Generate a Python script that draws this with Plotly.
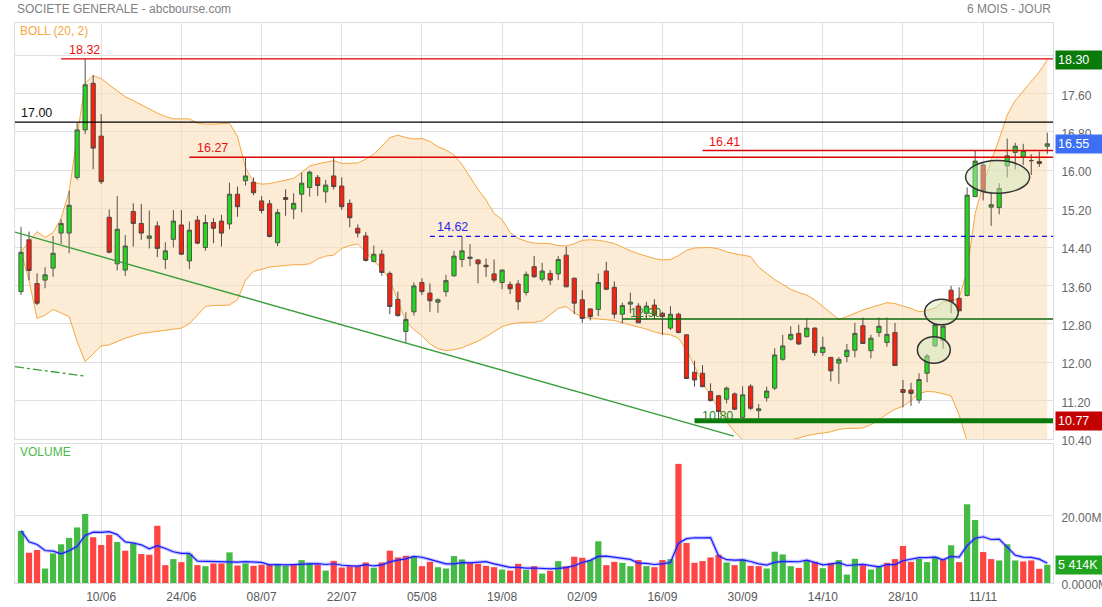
import plotly.graph_objects as go
import pandas as pd

# ---------------- data ----------------
dates = [d.strftime('%Y-%m-%d') for d in pd.bdate_range('2024-05-27', periods=129)]
tick_dates = ['2024-06-10', '2024-06-24', '2024-07-08', '2024-07-22', '2024-08-05', '2024-08-19',
              '2024-09-02', '2024-09-16', '2024-09-30', '2024-10-14', '2024-10-28', '2024-11-11']
tick_labels = ['10/06', '24/06', '08/07', '22/07', '05/08', '19/08',
               '02/09', '16/09', '30/09', '14/10', '28/10', '11/11']

opens = [13.47, 14.55, 13.64, 13.71, 13.96, 14.69, 14.69, 15.85, 16.84, 17.81, 16.71, 15.02, 14.05, 13.92, 15.14, 14.89,
         14.58, 14.84, 14.14, 14.56, 14.86, 14.11, 14.96, 14.39, 14.91, 14.94, 14.88, 15.50, 15.78, 15.75, 15.36, 15.30,
         14.49, 15.43, 15.19, 15.50, 15.64, 15.85, 15.55, 15.88, 15.67, 15.31, 14.79, 14.63, 14.10, 14.25, 13.85, 13.31,
         12.64, 13.05, 13.66, 13.44, 13.25, 13.47, 13.80, 14.14, 14.16, 14.13, 14.02, 13.84, 13.66, 13.62, 13.63, 13.45,
         13.99, 13.73, 13.85, 13.84, 14.23, 13.75, 13.30, 13.11, 13.10, 13.90, 13.56, 13.00, 13.21, 13.17, 13.02, 13.19,
         13.02, 12.71, 13.00, 12.57, 11.79, 11.77, 11.39, 11.30, 11.23, 11.34, 10.85, 11.50, 10.99, 11.26, 11.46, 12.06,
         12.48, 12.60, 12.53, 12.71, 12.20, 12.10, 11.98, 12.12, 12.25, 12.76, 12.24, 12.62, 12.41, 12.62, 11.43, 11.42,
         11.21, 11.77, 12.34, 12.46, 13.50, 13.33, 13.39, 15.45, 16.11, 15.23, 15.22, 16.09, 16.37, 16.28, 16.20, 16.18,
         16.50]
highs = [14.82, 14.72, 13.85, 13.98, 14.63, 14.98, 15.57, 16.99, 18.32, 17.98, 17.17, 15.18, 15.46, 14.65, 15.31, 15.30,
         15.16, 14.93, 14.50, 15.17, 15.17, 14.93, 15.05, 15.07, 15.00, 15.07, 15.74, 15.66, 16.27, 15.85, 15.46, 15.38,
         15.19, 15.60, 15.52, 15.95, 15.99, 15.90, 15.80, 16.27, 15.85, 15.39, 14.87, 14.71, 14.43, 14.34, 13.89, 13.47,
         13.04, 13.66, 13.75, 13.64, 13.33, 13.82, 14.32, 14.62, 14.46, 14.15, 14.16, 14.14, 13.93, 13.68, 13.71, 13.89,
         14.21, 14.07, 13.92, 14.21, 14.41, 13.76, 13.50, 13.12, 13.85, 14.09, 13.68, 13.24, 13.45, 13.23, 13.26, 13.31,
         13.05, 13.17, 13.03, 12.58, 12.03, 11.94, 11.56, 11.32, 11.49, 11.37, 11.50, 11.54, 11.13, 11.49, 12.29, 12.57,
         12.75, 12.78, 12.91, 12.73, 12.53, 12.11, 12.11, 12.38, 12.82, 12.93, 12.57, 12.93, 12.93, 12.82, 11.63, 11.57,
         11.77, 12.17, 12.80, 12.77, 13.59, 13.56, 15.64, 16.41, 16.16, 15.55, 15.73, 16.66, 16.57, 16.55, 16.33, 16.39,
         16.78]
lows = [13.40, 13.71, 13.19, 13.54, 13.78, 14.46, 14.27, 15.80, 16.75, 16.02, 15.71, 14.27, 13.91, 13.80, 14.41, 14.55,
        14.37, 14.19, 13.94, 14.39, 14.23, 13.94, 14.46, 14.32, 14.48, 14.41, 14.77, 15.03, 15.68, 15.48, 15.10, 14.60,
        14.42, 15.05, 14.98, 15.12, 15.45, 15.46, 15.32, 15.60, 15.17, 14.81, 14.60, 14.10, 14.08, 13.80, 13.00, 12.95,
        12.41, 12.97, 13.40, 13.05, 13.03, 13.37, 13.78, 13.98, 14.00, 13.64, 13.78, 13.66, 13.52, 13.42, 13.09, 13.39,
        13.76, 13.68, 13.61, 13.71, 13.57, 13.00, 12.82, 12.87, 12.96, 13.50, 12.91, 12.81, 13.02, 12.82, 12.89, 12.89,
        12.57, 12.67, 12.60, 11.65, 11.49, 11.48, 11.18, 10.80, 11.14, 11.00, 10.83, 11.00, 10.83, 11.18, 11.42, 12.03,
        12.45, 12.36, 12.52, 12.13, 12.13, 11.60, 11.55, 12.00, 12.10, 12.38, 12.08, 12.53, 12.32, 11.93, 11.06, 11.09,
        11.14, 11.58, 12.32, 12.28, 13.02, 13.06, 13.37, 15.44, 15.37, 14.84, 15.08, 15.85, 16.02, 16.11, 15.90, 16.07,
        16.34]
closes = [14.29, 13.91, 13.23, 13.82, 14.27, 14.89, 15.27, 16.84, 17.78, 16.46, 15.76, 14.29, 14.77, 14.42, 14.89, 14.69,
          14.63, 14.37, 14.32, 14.94, 14.25, 14.75, 14.48, 14.91, 14.79, 14.69, 15.50, 15.24, 15.88, 15.53, 15.16, 14.62,
          15.12, 15.39, 15.31, 15.73, 15.96, 15.68, 15.69, 15.66, 15.24, 15.01, 14.69, 14.12, 14.25, 13.87, 13.16, 12.97,
          12.89, 13.59, 13.47, 13.28, 13.30, 13.70, 14.21, 14.32, 14.19, 14.05, 13.99, 13.71, 13.92, 13.53, 13.26, 13.83,
          13.78, 13.90, 13.71, 14.14, 13.57, 13.23, 12.91, 12.95, 13.66, 13.52, 13.00, 13.18, 13.25, 12.82, 13.17, 12.98,
          12.95, 13.00, 12.62, 11.66, 11.63, 11.49, 11.20, 10.97, 11.46, 11.02, 11.32, 11.04, 11.03, 11.40, 12.15, 12.34,
          12.58, 12.38, 12.71, 12.20, 12.31, 11.82, 12.06, 12.25, 12.60, 12.39, 12.50, 12.75, 12.58, 11.93, 11.37, 11.35,
          11.64, 12.13, 12.78, 12.75, 13.26, 13.07, 15.48, 16.19, 15.57, 15.28, 15.62, 16.30, 16.50, 16.41, 16.20, 16.14,
          16.55]

boll_upper = [14.30, 14.50, 14.72, 14.60, 14.70, 15.00, 15.55, 16.70, 17.81, 17.97, 17.91, 17.78, 17.65, 17.53, 17.45, 17.36,
              17.27, 17.19, 17.12, 17.07, 17.07, 17.07, 16.98, 16.96, 16.96, 16.97, 16.98, 16.70, 16.05, 15.75, 15.71, 15.72,
              15.76, 15.80, 15.83, 15.95, 16.09, 16.13, 16.17, 16.20, 16.14, 16.14, 16.15, 16.23, 16.33, 16.50, 16.68, 16.73,
              16.68, 16.65, 16.66, 16.60, 16.49, 16.42, 16.32, 16.12, 15.85, 15.60, 15.38, 15.10, 14.97, 14.70, 14.58, 14.52,
              14.48, 14.48, 14.47, 14.43, 14.42, 14.47, 14.54, 14.55, 14.54, 14.51, 14.47, 14.40, 14.32, 14.26, 14.21, 14.16,
              14.13, 14.14, 14.22, 14.33, 14.38, 14.39, 14.39, 14.36, 14.30, 14.26, 14.23, 14.20, 13.98, 13.85, 13.72, 13.62,
              13.52, 13.45, 13.40, 13.30, 13.16, 13.02, 12.89, 12.95, 13.02, 13.09, 13.14, 13.19, 13.24, 13.22, 13.17, 13.12,
              13.05, 13.08, 13.13, 13.26, 13.27, 13.34, 13.90, 15.10, 15.70, 16.20, 16.65, 17.15, 17.45, 17.65, 17.85, 18.05,
              18.30]
boll_lower = [14.30, 13.70, 12.91, 12.98, 13.10, 13.02, 12.95, 12.43, 12.01, 12.17, 12.34, 12.36, 12.43, 12.50, 12.55, 12.60,
              12.62, 12.64, 12.67, 12.69, 12.71, 12.80, 12.98, 13.16, 13.18, 13.19, 13.19, 13.30, 13.71, 13.89, 13.94, 13.98,
              14.00, 14.02, 14.03, 14.03, 14.05, 14.15, 14.21, 14.23, 14.37, 14.43, 14.46, 14.30, 14.10, 13.96, 13.70, 13.28,
              12.85, 12.68, 12.55, 12.38, 12.28, 12.24, 12.26, 12.30, 12.37, 12.44, 12.53, 12.63, 12.74, 12.79, 12.82, 12.83,
              12.83, 12.86, 13.00, 13.12, 13.16, 13.03, 12.94, 12.91, 12.90, 12.89, 12.87, 12.82, 12.78, 12.73, 12.69, 12.63,
              12.59, 12.57, 12.50, 12.25, 11.92, 11.55, 11.32, 11.02, 10.76, 10.55, 10.38, 10.25, 10.20, 10.22, 10.28, 10.32,
              10.38, 10.42, 10.47, 10.50, 10.52, 10.55, 10.60, 10.62, 10.62, 10.63, 10.70, 10.80, 10.92, 11.02, 11.08, 11.20,
              11.35, 11.39, 11.38, 11.34, 11.30, 10.90, 10.35, 9.90, 9.60, 9.50, 9.45, 9.50, 9.60, 9.80, 10.00, 10.20,
              10.36]

volumes_m = [15.5, 9.0, 9.8, 4.3, 8.8, 11.5, 13.4, 16.5, 20.5, 13.6, 11.3, 14.3, 12.2, 9.6, 12.0, 8.6,
             8.4, 17.0, 5.3, 7.1, 6.2, 8.6, 5.3, 5.0, 5.8, 5.8, 9.1, 5.2, 5.8, 5.1, 5.4, 5.5,
             5.7, 5.1, 5.5, 6.8, 6.0, 5.5, 3.7, 6.6, 4.6, 5.0, 5.1, 6.1, 4.5, 6.1, 9.6, 7.6,
             8.1, 8.0, 5.0, 6.3, 4.7, 4.3, 8.0, 7.0, 6.0, 5.7, 5.1, 4.7, 4.0, 3.7, 5.7, 3.9,
             5.0, 2.8, 3.6, 6.5, 5.0, 7.8, 7.5, 6.8, 12.4, 5.3, 6.3, 6.0, 5.0, 6.8, 5.0, 4.7,
             6.8, 7.1, 35.4, 11.9, 6.0, 6.5, 7.6, 8.4, 6.1, 5.3, 7.0, 5.1, 5.0, 4.3, 9.3, 8.5,
             5.0, 4.5, 6.8, 6.3, 4.4, 6.0, 6.8, 2.5, 7.2, 5.3, 4.0, 5.0, 6.0, 7.1, 11.0, 6.3,
             7.2, 6.2, 7.8, 7.0, 11.2, 6.2, 23.4, 18.7, 9.2, 7.1, 6.7, 11.5, 6.7, 6.4, 6.7, 4.2,
             5.414]
volume_ma_m = [15.5, 12.25, 11.43, 9.65, 9.48, 8.68, 9.56, 10.9, 14.14, 15.1, 15.06, 15.24, 14.38, 12.2, 11.88, 11.34,
               10.16, 11.12, 10.26, 9.28, 8.8, 8.84, 6.5, 6.44, 6.18, 6.1, 6.2, 6.18, 6.34, 6.2, 6.12, 5.4,
               5.5, 5.36, 5.44, 5.72, 5.82, 5.78, 5.5, 5.72, 5.28, 5.08, 5.0, 5.48, 5.06, 5.36, 6.28, 6.78,
               7.18, 7.88, 7.66, 7.0, 6.42, 5.66, 5.66, 6.06, 6.0, 6.2, 6.36, 5.7, 5.1, 4.64, 4.64, 4.4,
               4.46, 4.22, 4.2, 4.36, 4.58, 5.14, 6.08, 6.72, 7.9, 7.96, 7.66, 7.36, 7.0, 5.88, 5.82, 5.5,
               5.66, 6.08, 11.8, 13.18, 13.44, 13.38, 13.48, 8.08, 6.92, 6.78, 6.88, 6.38, 5.7, 5.34, 6.14, 6.44,
               6.42, 6.32, 6.82, 6.22, 5.4, 5.6, 6.06, 5.2, 5.38, 5.56, 5.16, 4.8, 5.5, 5.48, 6.62, 7.08,
               7.52, 7.56, 7.7, 6.9, 7.88, 7.68, 11.12, 13.3, 13.74, 12.92, 13.02, 10.64, 8.24, 7.68, 7.6, 7.1,
               5.88]

price_ticks = [10.40, 11.20, 12.00, 12.80, 13.60, 14.40, 15.20, 16.00, 16.80, 17.60, 18.40]
volume_ticks = [0, 20]
volume_tick_labels = ['0.0000M', '20.00M']

# drawn levels: value, start (bar index), label, label position (bar index)
level_values = [18.32, 17.00, 16.27, 16.41, 14.62, 12.90, 10.78]
level_starts = [5.0, -0.75, 21.0, 85.0, 51.0, 75.0, 84.0]
level_texts = ['18.32', '17.00', '16.27', '16.41', '14.62', '12.90', '10.80']
level_text_x = [5.7, -0.2, 21.7, 85.6, 51.6, 75.7, 84.7]

trend_x = [-0.75, 88.9]
trend_y = [14.71, 10.46]
dashdot_x = [-0.75, 8.0]
dashdot_y = [11.906, 11.71]
# ellipses: x0, x1 (bar index), y0, y1 (price)
ellipses = [(111.8, 115.9, 11.98, 12.53), (112.7, 116.9, 12.78, 13.31), (117.8, 125.8, 15.52, 16.20)]

last_upper_label = '18.30'
last_close_label = '16.55'
low_label_value = 10.77
last_volume_label = '5 414K'

n = len(dates)
for name, arr in [('opens', opens), ('highs', highs), ('lows', lows), ('closes', closes), ('up', boll_upper),
                  ('lo', boll_lower), ('vol', volumes_m), ('ma', volume_ma_m)]:
    assert len(arr) == n, (name, len(arr))

# ---------------- layout geometry ----------------
L, R, T, B = 15, 1053, 23, 583
W, H = R - L, B - T
def px(x):
    return (x - L) / W
def py(y):
    return (B - y) / H

X_RANGE = [-0.75, 128.71]
Y_RANGE = [10.40, 10.40 + (439 - 23) / 48.0]
FONT = 'Liberation Sans, Arial, sans-serif'
GREEN = '#1fd81f'
RED = '#f8220f'

vol_colors = ['#44bb44'] + ['#44bb44' if closes[i] >= closes[i - 1] else '#ff4444' for i in range(1, n)]

fig = go.Figure()

# Bollinger band (base subplot, drawn underneath)
fig.add_trace(go.Scatter(x=dates, y=boll_lower, mode='lines', line=dict(color='#f5a742', width=1),
                         xaxis='x', yaxis='y', hoverinfo='skip'))
fig.add_trace(go.Scatter(x=dates, y=boll_upper, mode='lines', line=dict(color='#f5a742', width=1),
                         fill='tonexty', fillcolor='rgba(250,222,185,0.6)', xaxis='x', yaxis='y', hoverinfo='skip'))

# candles on an overlaid axis so they sit above the band fill
fig.add_trace(go.Candlestick(x=dates, open=opens, high=highs, low=lows, close=closes,
                             increasing=dict(fillcolor=GREEN, line=dict(color='#555548', width=1)),
                             decreasing=dict(fillcolor=RED, line=dict(color='#5a4440', width=1)),
                             whiskerwidth=0, xaxis='x', yaxis='y3'))

# volume
fig.add_trace(go.Bar(x=dates, y=volumes_m, marker=dict(color=vol_colors, line=dict(width=0)),
                     xaxis='x2', yaxis='y2'))
fig.add_trace(go.Scatter(x=dates, y=volume_ma_m, mode='lines', line=dict(color='rgba(90,90,255,0.35)', width=3.5),
                         xaxis='x2', yaxis='y2', hoverinfo='skip'))
fig.add_trace(go.Scatter(x=dates, y=volume_ma_m, mode='lines', line=dict(color='#1a1aff', width=1.2),
                         xaxis='x2', yaxis='y2', hoverinfo='skip'))

shapes = []
annotations = []
level_styles = [dict(color='#dd0000', width=1.3), dict(color='#000000', width=1.3), dict(color='#dd0000', width=1.3),
                dict(color='#dd0000', width=1.3), dict(color='#1010ee', width=1.3, dash='5px,4px'),
                dict(color='#0a6a0a', width=1.3), dict(color='#0a7a0a', width=5)]
label_colors = ['#ee1111', '#111111', '#ee1111', '#ee1111', '#2a2aee', '#2a8a2a', '#2a8a2a']
label_shift = [0, 0, 0, 0, 0, -3, -4]
for v, s, st, t, tx, c, sh in zip(level_values, level_starts, level_styles, level_texts, level_text_x,
                                  label_colors, label_shift):
    shapes.append(dict(type='line', xref='x', yref='y', x0=s, x1=X_RANGE[1], y0=v, y1=v, line=st, layer='above'))
    annotations.append(dict(xref='x', yref='y', x=tx, y=v, text=t, showarrow=False, xanchor='left',
                            yanchor='bottom', yshift=sh, font=dict(family=FONT, size=12.5, color=c)))

shapes.append(dict(type='line', xref='x', yref='y', x0=trend_x[0], x1=trend_x[1], y0=trend_y[0], y1=trend_y[1],
                   line=dict(color='#3a9e3a', width=1.4), layer='above'))
shapes.append(dict(type='line', xref='x', yref='y', x0=dashdot_x[0], x1=dashdot_x[1], y0=dashdot_y[0],
                   y1=dashdot_y[1], line=dict(color='#3a9e3a', width=1.3, dash='dashdot'), layer='above'))
for (x0, x1, y0, y1) in ellipses:
    shapes.append(dict(type='circle', xref='x', yref='y', x0=x0, x1=x1, y0=y0, y1=y1,
                       fillcolor='rgba(205,232,185,0.45)', line=dict(color='#333333', width=1.5), layer='above'))

# header texts
annotations += [
    dict(xref='paper', yref='paper', x=px(15), y=py(9), text='SOCIETE GENERALE - abcbourse.com', showarrow=False,
         xanchor='left', yanchor='middle', font=dict(family=FONT, size=12, color='#7f7f7f')),
    dict(xref='paper', yref='paper', x=px(1053), y=py(9), text='6 MOIS - JOUR', showarrow=False,
         xanchor='right', yanchor='middle', font=dict(family=FONT, size=12, color='#7f7f7f')),
    dict(xref='paper', yref='paper', x=px(18), y=py(31), text='BOLL (20, 2)', showarrow=False,
         xanchor='left', yanchor='middle', font=dict(family=FONT, size=12, color='#f5a742')),
    dict(xref='paper', yref='paper', x=px(18), y=py(452), text='VOLUME', showarrow=False,
         xanchor='left', yanchor='middle', font=dict(family=FONT, size=12, color='#4cbb4c')),
]
# right-side value boxes
box_x = px(1055)
for txt, yref, yv, bg in [(last_upper_label, 'y', float(last_upper_label), '#0a7a0a'),
                          (last_close_label, 'y', float(last_close_label), '#3d6ff5'),
                          (f'{low_label_value:.2f}', 'y', low_label_value, '#c40000'),
                          (last_volume_label, 'y2', volumes_m[-1], '#1fa51f')]:
    annotations.append(dict(xref='paper', yref=yref, x=box_x, y=yv, text=txt, showarrow=False, xanchor='left',
                            yanchor='middle', align='left', width=43, borderpad=2, bgcolor=bg,
                            font=dict(family=FONT, size=12.5, color='white')))

grid = '#e0e0e0'
fig.update_layout(
    width=1102, height=607, margin=dict(l=L, r=1102 - R, t=T, b=607 - B, autoexpand=False),
    paper_bgcolor='white', plot_bgcolor='white', showlegend=False, boxgap=0.25, bargap=0.22,
    font=dict(family=FONT, size=12, color='#666666'),
    xaxis=dict(domain=[0, 1], anchor='y', type='category', range=X_RANGE, tickvals=tick_dates,
               showticklabels=False, showgrid=True, gridcolor=grid, showline=True, mirror=True, linecolor='#dcdcdc',
               zeroline=False, rangeslider=dict(visible=False), ticks='', automargin=False),
    xaxis2=dict(domain=[0, 1], anchor='y2', type='category', matches='x', range=X_RANGE, tickvals=tick_dates,
                ticktext=tick_labels, showgrid=True, gridcolor=grid, showline=True, mirror=True, linecolor='#dcdcdc',
                zeroline=False, ticks='outside', ticklen=3, tickcolor='rgba(0,0,0,0)', automargin=False,
                tickfont=dict(family=FONT, size=12, color='#595959')),
    yaxis=dict(domain=[py(439), 1], anchor='x', side='right', range=Y_RANGE,
               tickvals=price_ticks, ticktext=[f'{v:.2f}' for v in price_ticks], showgrid=True, gridcolor=grid,
               showline=True, mirror=True, linecolor='#dcdcdc', zeroline=False, ticks='outside', ticklen=5,
               ticklabelshift=2, tickcolor='rgba(0,0,0,0)', automargin=False,
               tickfont=dict(family=FONT, size=12, color='#666666')),
    yaxis3=dict(overlaying='y', anchor='x', side='right', range=Y_RANGE, matches='y', showticklabels=False,
                showgrid=False, zeroline=False, showline=False, ticks='', automargin=False),
    yaxis2=dict(domain=[0, py(444)], anchor='x2', side='right', range=[0, 41.3], tickvals=volume_ticks,
                ticktext=volume_tick_labels, showgrid=True, gridcolor=grid, showline=True, mirror=True,
                linecolor='#dcdcdc', zeroline=False, ticks='outside', ticklen=5, tickcolor='rgba(0,0,0,0)',
                ticklabelshift=2, automargin=False, tickfont=dict(family=FONT, size=12, color='#666666')),
    shapes=shapes, annotations=annotations,
)

fig.write_html('out.html', config={'displayModeBar': False},
               post_script="document.body.style.margin='0px';document.body.style.padding='0px';")
